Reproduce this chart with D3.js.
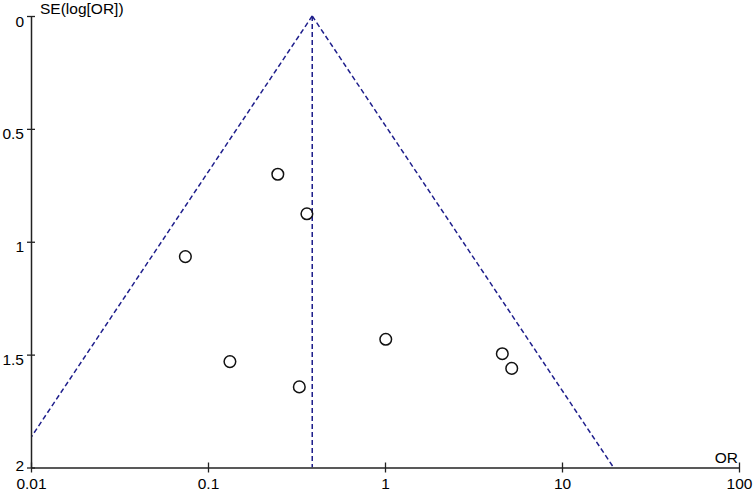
<!DOCTYPE html>
<html>
<head>
<meta charset="utf-8">
<script src="https://cdn.jsdelivr.net/npm/d3@7"></script>
<style>
    body { margin: 0; background: #ffffff; }
    svg text { font-family: "Liberation Sans", Arial, sans-serif; font-size: 15.5px; fill: #000; }
</style>
</head>
<body>
<div id="graph"></div>
<script>
// study values
var ODDS_RATIOS = [0.248, 0.362, 0.0745, 0.133, 0.328, 1.01, 4.6, 5.2];
var STD_ERRORS = [0.701, 0.876, 1.066, 1.531, 1.643, 1.432, 1.496, 1.561];
var POOLED_OR = 0.388;

var X_TICKS = [0.01, 0.1, 1, 10, 100],
    X_LABELS = ["0.01", "0.1", "1", "10", "100"],
    Y_TICKS = [0, 0.5, 1, 1.5, 2],
    Y_LABELS = ["0", "0.5", "1", "1.5", "2"];

var width = 756,
    height = 492;

var navy = "#1f1f8c";
var fontFamily = "'Liberation Sans', Arial, sans-serif";
var fontSize = "15.5px";

var svg = d3.select("#graph")
    .append("svg")
    .attr("width", width)
    .attr("height", height);

var x = d3.scaleLog()
    .domain([0.01, 100])
    .range([31, 739]);

var y = d3.scaleLinear()
    .domain([0, 2])
    .range([16, 467.5]);

// clip the funnel to the plot area
svg.append("defs")
    .append("clipPath")
    .attr("id", "plotClip")
    .append("rect")
    .attr("x", x(0.01))
    .attr("y", y(0) - 2)
    .attr("width", x(100) - x(0.01))
    .attr("height", y(2) - y(0) + 2);

// funnel: 95% limits around the pooled estimate
var seMax = 2;
var funnel = [
    [[POOLED_OR, 0], [POOLED_OR * Math.exp(-1.96 * seMax), seMax]],
    [[POOLED_OR, 0], [POOLED_OR * Math.exp(1.96 * seMax), seMax]],
    [[POOLED_OR, 0], [POOLED_OR, seMax]]
];

var line = d3.line()
    .x(function (d) { return x(d[0]); })
    .y(function (d) { return y(d[1]); });

svg.append("g")
    .attr("clip-path", "url(#plotClip)")
    .selectAll("path")
    .data(funnel)
    .enter()
    .append("path")
    .attr("d", line)
    .attr("fill", "none")
    .attr("stroke", navy)
    .attr("stroke-width", 1.5)
    .attr("stroke-dasharray", "5,3");

// x axis
var xAxis = svg.append("g")
    .attr("transform", "translate(0," + y(2) + ")")
    .call(d3.axisBottom(x)
        .tickValues(X_TICKS)
        .tickFormat(function (d, i) { return X_LABELS[i]; })
        .tickSize(5)
        .tickSizeOuter(0));

xAxis.attr("font-size", null).attr("font-family", null);
xAxis.select(".domain").attr("stroke", "#222").attr("stroke-width", 1.5);
xAxis.selectAll(".tick line")
    .attr("y1", -5)
    .attr("y2", 5)
    .attr("stroke", "#222")
    .attr("stroke-width", 1.3);
xAxis.selectAll(".tick text")
    .attr("y", 21)
    .attr("dy", 0)
    .attr("fill", "#000")
    .style("font-size", fontSize)
    .style("font-family", fontFamily);

// y axis
var yAxis = svg.append("g")
    .attr("transform", "translate(" + x(0.01) + ",0)")
    .call(d3.axisLeft(y)
        .tickValues(Y_TICKS)
        .tickFormat(function (d, i) { return Y_LABELS[i]; })
        .tickSize(4)
        .tickSizeOuter(0));

yAxis.attr("font-size", null).attr("font-family", null);
yAxis.select(".domain").attr("stroke", "#222").attr("stroke-width", 1.5);
yAxis.selectAll(".tick line")
    .attr("x1", -4)
    .attr("x2", 4)
    .attr("stroke", "#222")
    .attr("stroke-width", 1.3);
// last label sits just above the x labels
yAxis.selectAll(".tick text")
    .attr("x", -7)
    .attr("dy", 0)
    .attr("y", function (d) { return d === 2 ? 3 : 10; })
    .attr("fill", "#000")
    .style("font-size", fontSize)
    .style("font-family", fontFamily);

// axis titles
svg.append("text")
    .attr("x", 40)
    .attr("y", 14)
    .attr("text-anchor", "start")
    .style("font-size", fontSize)
    .text("SE(log[OR])");

svg.append("text")
    .attr("x", 738)
    .attr("y", 463)
    .attr("text-anchor", "end")
    .style("font-size", fontSize)
    .text("OR");

// study points
svg.append("g")
    .selectAll("circle")
    .data(ODDS_RATIOS)
    .enter()
    .append("circle")
    .attr("cx", function (d) { return x(d); })
    .attr("cy", function (d, i) { return y(STD_ERRORS[i]); })
    .attr("r", 5.8)
    .attr("fill", "none")
    .attr("stroke", "#111")
    .attr("stroke-width", 1.5);
</script>
</body>
</html>
